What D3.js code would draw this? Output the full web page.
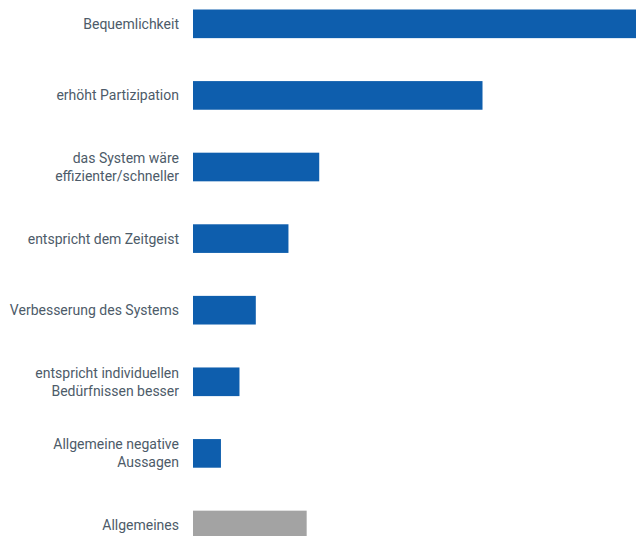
<!DOCTYPE html>
<html><head><meta charset="utf-8">
<script src="https://cdn.jsdelivr.net/npm/d3@7"></script>
<style>html,body{margin:0;padding:0;background:#fff;overflow:hidden}</style>
</head><body>
<svg id="c" width="636" height="536"></svg>
<script>
const categories = [
  "Bequemlichkeit",
  "erhöht Partizipation",
  "das System wäre\neffizienter/schneller",
  "entspricht dem Zeitgeist",
  "Verbesserung des Systems",
  "entspricht individuellen\nBedürfnissen besser",
  "Allgemeine negative\nAussagen",
  "Allgemeines"
];
const values = [142, 92.2, 40.2, 30.4, 20, 14.8, 8.9, 36.2];
const barColors = ["#0e5ead","#0e5ead","#0e5ead","#0e5ead","#0e5ead","#0e5ead","#0e5ead","#a3a3a3"];

const svg = d3.select("#c");
const x = d3.scaleLinear().domain([0, 100]).range([193, 507]);
const y = d3.scaleBand().domain(categories).range([9.5, 539.3]).paddingInner(0.6).paddingOuter(0);

svg.selectAll("rect.bar").data(categories).join("rect")
  .attr("class","bar")
  .attr("x", x(0))
  .attr("y", d => y(d))
  .attr("width", (d,i) => x(values[i]) - x(0))
  .attr("height", y.bandwidth())
  .attr("fill", (d,i) => barColors[i]);

const lh = 18;
const lab = svg.selectAll("text.lab").data(categories).join("text")
  .attr("class","lab")
  .attr("x", 179)
  .attr("text-anchor","end")
  .attr("font-family","Roboto, sans-serif")
  .attr("font-size", 14)
  .attr("fill","#4d5b69");
lab.each(function(d){
  const lines = d.split("\n");
  const cy = y(d) + y.bandwidth()/2;
  const first = cy + 5 - (lines.length-1)*lh/2;
  d3.select(this).selectAll("tspan").data(lines).join("tspan")
    .attr("x", 179)
    .attr("y", (l,j) => first + j*lh)
    .text(l => l);
});
</script>
</body></html>
